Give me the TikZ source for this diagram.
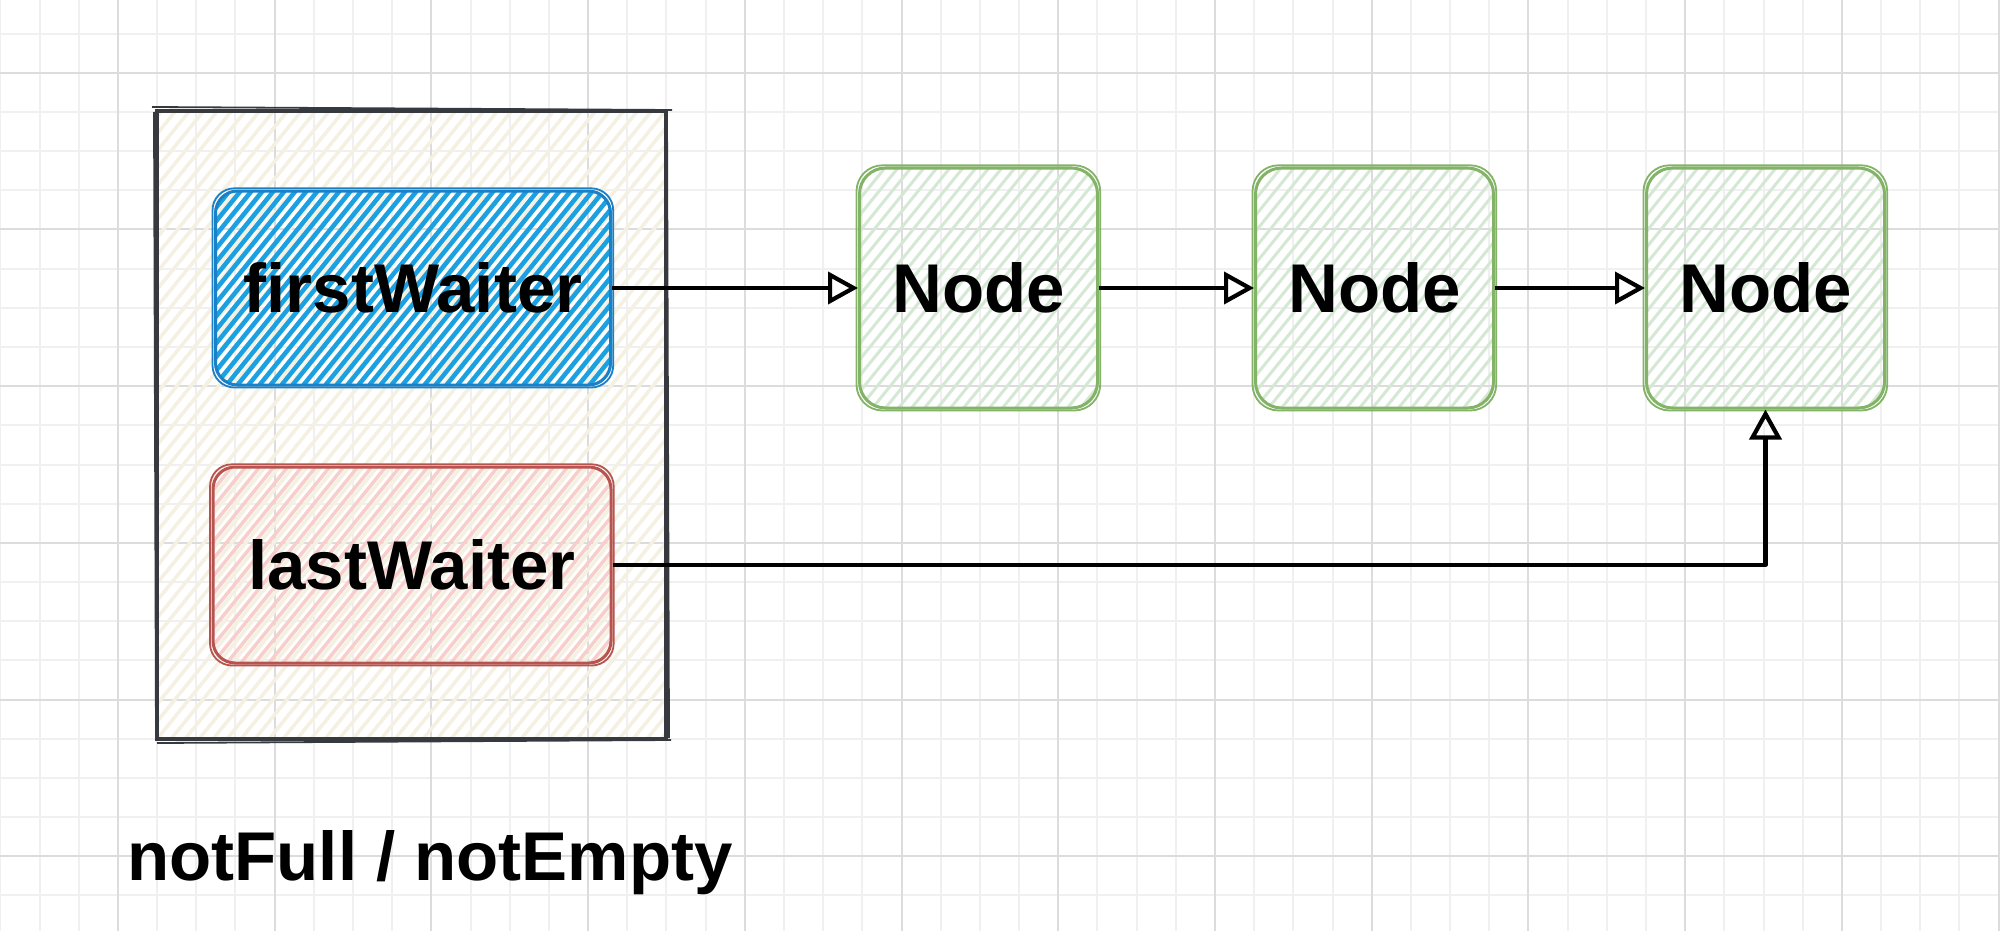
\documentclass[tikz,border=0pt]{standalone}
\usepackage{fontspec}
\setmainfont{Liberation Sans}
\usetikzlibrary{arrows.meta}
\definecolor{gridmaj}{HTML}{DCDCDC}
\definecolor{gridmin}{HTML}{F0F0F0}
\definecolor{bluestroke}{HTML}{1A80C8}
\definecolor{bluehatch}{HTML}{1BA1E2}
\definecolor{greenstroke}{HTML}{82B366}
\definecolor{greenhatch}{HTML}{D5E8D4}
\definecolor{redstroke}{HTML}{B85450}
\definecolor{redhatch}{HTML}{F8CECC}
\definecolor{boxstroke}{HTML}{36393D}
\definecolor{boxhatch}{HTML}{F4F1E2}
\tikzset{
  hatch/.style n args={3}{path picture={
    \foreach \k in {-70,...,70}{
      \draw[#1, line width=#3] ([xshift=\k*#2]path picture bounding box.south west) -- ++(51:1100pt);
    }}},
  boxtext/.style={font=\fontsize{69}{80}\selectfont\bfseries, text=black},
  sketchbox/.style={draw, line width=3pt, inner sep=0pt, boxtext},
  sketchline/.style={line width=1.8pt},
  conn/.style={-{Triangle[open, length=30pt, width=32pt]}, line width=4.2pt, line join=round, draw=black},
  gridminor/.style={draw=gridmin, line width=2pt},
  gridmajor/.style={draw=gridmaj, line width=2pt}
}
\begin{document}
\begin{tikzpicture}[x=1pt, y=-1pt]
\useasboundingbox (0,0) rectangle (2000,931);
\fill[white] (0,0) rectangle (2000,931);
% grid
\foreach \k in {0,...,51}{
  \draw[gridminor] ({0.4+39.18*\k},0) -- ({0.4+39.18*\k},931);
}
\foreach \k in {1,...,24}{
  \draw[gridminor] (0,{-5.66+39.18*\k}) -- (2000,{-5.66+39.18*\k});
}
\foreach \k in {0,...,12}{
  \draw[gridmajor] ({118+156.72*\k},0) -- ({118+156.72*\k},931);
}
\foreach \k in {0,...,5}{
  \draw[gridmajor] (0,{72.7+156.72*\k}) -- (2000,{72.7+156.72*\k});
}
% container
\node[sketchbox, draw=boxstroke, line width=4pt, hatch={boxhatch}{14pt}{3.5pt},
      minimum width=509pt, minimum height=628pt] (cond) at (411.5,425) {};
\draw[sketchline, draw=boxstroke] ([shift={(-3,-2)}]cond.north west) -- ([shift={(4,1)}]cond.north east)
      ([shift={(-1,3)}]cond.north west) -- ([shift={(1,-2)}]cond.south west)
      ([shift={(2,2)}]cond.south west) -- ([shift={(3,-1)}]cond.south east)
      ([shift={(-1,4)}]cond.north east) -- ([shift={(1,-3)}]cond.south east);
% waiters
\node[sketchbox, draw=bluestroke, rounded corners=22pt, hatch={bluehatch}{11pt}{4.5pt},
      minimum width=395pt, minimum height=194pt] (fw) at (413,288) {firstWaiter};
\draw[sketchline, draw=bluestroke, rounded corners=22pt]
      ([shift={(-1.5,-1.2)}]fw.north west) rectangle ([shift={(1.2,1)}]fw.south east);
\node[sketchbox, draw=redstroke, rounded corners=22pt, hatch={redhatch}{14pt}{3.5pt},
      minimum width=398pt, minimum height=196pt] (lw) at (412,565) {lastWaiter};
\draw[sketchline, draw=redstroke, rounded corners=22pt]
      ([shift={(-1.5,-1.2)}]lw.north west) rectangle ([shift={(1.2,1)}]lw.south east);
% nodes
\node[sketchbox, draw=greenstroke, rounded corners=26pt, hatch={greenhatch}{13pt}{3pt},
      minimum width=238pt, minimum height=240pt] (n1) at (978.5,288) {Node};
\node[sketchbox, draw=greenstroke, rounded corners=26pt, hatch={greenhatch}{13pt}{3pt},
      minimum width=238pt, minimum height=240pt] (n2) at (1374.5,288) {Node};
\node[sketchbox, draw=greenstroke, rounded corners=26pt, hatch={greenhatch}{13pt}{3pt},
      minimum width=238pt, minimum height=240pt] (n3) at (1765.5,288) {Node};
\foreach \n in {n1,n2,n3}{
  \draw[sketchline, draw=greenstroke, rounded corners=26pt]
      ([shift={(-1.5,-1.2)}]\n.north west) rectangle ([shift={(1.2,1)}]\n.south east);
}
% label
\node[boxtext, anchor=base, inner sep=0pt] (lbl) at (430,880) {notFull / notEmpty};
% connectors
\draw[conn] (fw.east) -- (n1.west);
\draw[conn] (n1.east) -- (n2.west);
\draw[conn] (n2.east) -- (n3.west);
\draw[conn] (lw.east) -| (n3.south);
\end{tikzpicture}
\end{document}
